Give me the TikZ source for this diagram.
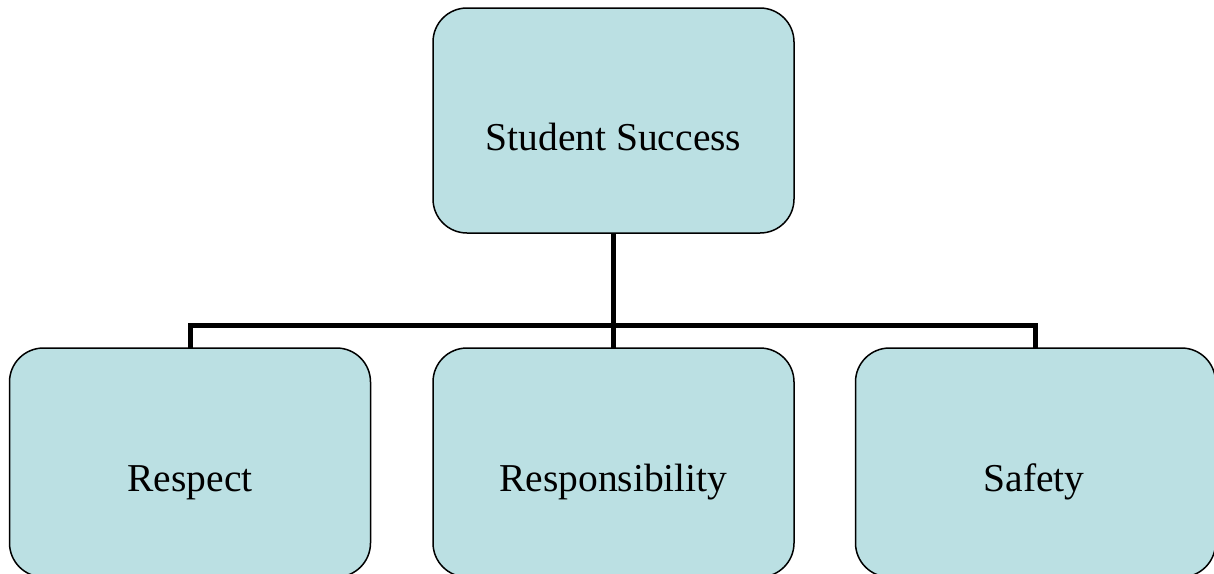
\documentclass[tikz,border=0pt]{standalone}
\usepackage{fontspec}
\setmainfont{Liberation Serif}
\begin{document}
\begin{tikzpicture}[x=1pt,y=-1pt,
  boxnode/.style={draw=black, line width=1.5pt, fill=boxfill, rounded corners=34pt,
    minimum width=361pt, minimum height=225pt, inner sep=0pt, outer sep=0pt},
  lowbox/.style={boxnode, minimum height=229pt},
  boxtext/.style={anchor=base, font=\fontsize{39.5pt}{44pt}\selectfont, inner sep=0pt},
  conn/.style={line width=5pt, draw=black}]
\definecolor{boxfill}{HTML}{BBE0E3}
\useasboundingbox (0,0) rectangle (1214,573);
\begin{scope}
\clip (0,0) rectangle (1214,573);
\node[boxnode] (top) at (613.5,120.5) {};
\node[lowbox] (r) at (190,462.5) {};
\node[lowbox] (m) at (613.5,462.5) {};
\node[lowbox, minimum width=360pt] (s) at (1035.5,462.5) {};
\draw[conn] (top.south) -- (m.north);
\draw[conn] (r.north) -- ++(0,-23) -| (s.north);
\end{scope}
\node[boxtext] (ttop) at (613.5,150) {Student Success};
\node[boxtext] (tr) at (190,491) {Respect};
\node[boxtext] (tm) at (613.5,491) {Responsibility};
\node[boxtext] (ts) at (1034,491) {Safety};
\end{tikzpicture}
\end{document}
